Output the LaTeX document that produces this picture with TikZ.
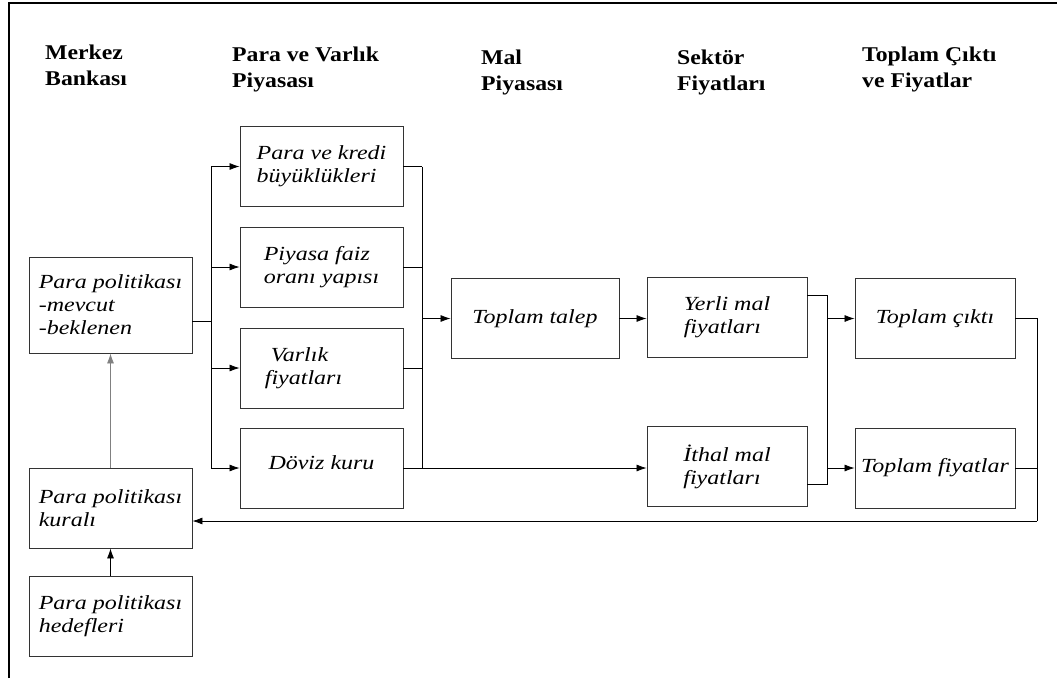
\documentclass[tikz,border=0pt]{standalone}
\usepackage{fontspec}
\setmainfont{Liberation Serif}
\newfontfamily\kutufont[FakeStretch=1.2]{Liberation Serif}
\newfontfamily\baslikfont[FakeStretch=1.13]{Liberation Serif}
\usetikzlibrary{arrows.meta}

\begin{document}
\begin{tikzpicture}[x=1pt,y=-1pt,
  kutu/.style={draw=kenar,line width=0.9pt,inner sep=2pt,align=left,minimum width=163pt,minimum height=80pt,
    font=\kutufont\itshape\fontsize{20}{23}\selectfont},
  dar/.style={minimum width=160pt},
  baslik/.style={anchor=north west,inner sep=0pt,align=left,font=\baslikfont\bfseries\fontsize{21}{26}\selectfont},
  cizgi/.style={line width=0.8pt},
  ok/.style={cizgi,-{Latex[length=10pt,width=7pt]}}]
\definecolor{kenar}{HTML}{333333}
\useasboundingbox (0,0) rectangle (1057,678);
\draw[line width=1.6pt] (9,678) -- (9,3) -- (1057,3);
\foreach \xx/\yy/\txt in {45/45/{Merkez\\Bankası},232/47/{Para ve Varlık\\Piyasası},481/50/{Mal\\Piyasası},
  677/50/{Sektör\\Fiyatları},862/47/{Toplam Çıktı\\ve Fiyatlar}}
  {\node[baslik] at (\xx,\yy) {\txt};}
\node[kutu,minimum height=96pt] (pp) at (110.5,305) {Para politikası\\-mevcut\\-beklenen};
\node[kutu] (kural) at (110.5,508) {Para politikası\\kuralı};
\node[kutu] (hedef) at (110.5,616.5) {Para politikası\\hedefleri};
\node[kutu] (para) at (321.5,166.5) {Para ve kredi\\büyüklükleri};
\node[kutu] (faiz) at (321.5,267) {Piyasa faiz\\oranı yapısı};
\node[kutu] (varlik) at (321.5,368) {\hspace*{-30pt}Varlık\\\hspace*{-36pt}fiyatları};
\node[kutu] (doviz) at (321.5,468) {Döviz kuru\\[-12pt]};
\node[kutu,minimum width=168pt] (talep) at (535,318.5) {Toplam talep};
\node[kutu,dar] (yerli) at (727,317.5) {Yerli mal\\fiyatları};
\node[kutu,dar] (ithal) at (727,466.5) {İthal mal\\fiyatları};
\node[kutu,dar] (cikti) at (935,318.5) {Toplam çıktı};
\node[kutu,dar] (fiyat) at (935,468) {Toplam fiyatlar};
\coordinate (L) at (211,0);
\coordinate (R) at (422,0);
\coordinate (S) at (827,484);
\coordinate (G) at (1037,521);
\draw[cizgi] ([yshift=-16pt]pp.east) -- ++(19,0);
\draw[cizgi] (L |- para.west) -- (L |- doviz.west);
\draw[cizgi] (R |- para.east) -- (R |- doviz.east);
\foreach \n in {para,faiz,varlik,doviz}
  {\draw[ok] (L |- \n.west) -- (\n.west);
   \draw[cizgi] (\n.east) -- (R |- \n.east);}
\draw[ok] (R |- talep.west) -- (talep.west);
\draw[ok] (doviz.east) -- (ithal.west |- doviz.east);
\draw[ok] (talep.east) -- (talep.east -| yerli.west);
\draw[cizgi] ([yshift=22pt]yerli.east) -| (S) -- (ithal.east |- S);
\draw[ok] (S |- cikti.west) -- (cikti.west);
\draw[ok] (S |- fiyat.west) -- (fiyat.west);
\draw[cizgi] (cikti.east) -| (G);
\draw[cizgi] (fiyat.east) -- (fiyat.east -| G);
\draw[ok] (G) -- (kural.east |- G);
\draw[ok,draw=gray] (kural.north) -- (pp.south);
\draw[ok] (hedef) -- (kural);
\end{tikzpicture}
\end{document}
